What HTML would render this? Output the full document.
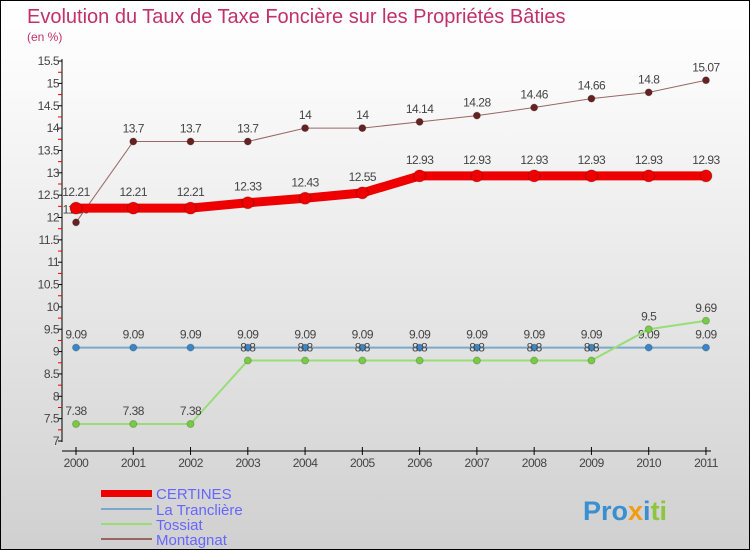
<!DOCTYPE html>
<html><head><meta charset="utf-8"><style>
body{margin:0}
#c{position:relative;width:748px;height:548px;border:1px solid #000;background:linear-gradient(#fff,#fafafa 15%,#d0d0d0);font-family:"Liberation Sans",sans-serif;overflow:hidden}
</style></head><body>
<div id="c">
<svg id="s" width="748" height="548" style="position:absolute;left:0;top:0" font-family="Liberation Sans, sans-serif">
<text x="26" y="22" font-size="20" fill="#c0306a">Evolution du Taux de Taxe Foncière sur les Propriétés Bâties</text>
<text x="26" y="40" font-size="12" fill="#c0306a">(en %)</text>
<g id="axes"></g><g id="series"></g>
<g>
<rect x="100" y="489" width="51" height="7" fill="#e00"/>
<text x="155" y="498" font-size="15" fill="#6666ff">CERTINES</text>
<line x1="100" y1="508" x2="151" y2="508" stroke="#7aa8cc" stroke-width="2"/>
<text x="155" y="514" font-size="15" fill="#6666ff">La Tranclière</text>
<line x1="100" y1="523" x2="151" y2="523" stroke="#99dd77" stroke-width="2"/>
<text x="155" y="529" font-size="15" fill="#6666ff">Tossiat</text>
<line x1="100" y1="538" x2="151" y2="538" stroke="#996666" stroke-width="2"/>
<text x="155" y="544" font-size="15" fill="#6666ff">Montagnat</text>
</g>
<text x="582" y="519" font-size="27" font-weight="bold"><tspan fill="#3a8fd0">Pro</tspan><tspan fill="#f39c12">x</tspan><tspan fill="#3a8fd0">i</tspan><tspan fill="#8cc63f">ti</tspan></text>
</svg>
</div>
<script>
const years=[2000,2001,2002,2003,2004,2005,2006,2007,2008,2009,2010,2011];
const certines=[12.21,12.21,12.21,12.33,12.43,12.55,12.93,12.93,12.93,12.93,12.93,12.93];
const tranclière=[9.09,9.09,9.09,9.09,9.09,9.09,9.09,9.09,9.09,9.09,9.09,9.09];
const tossiat=[7.38,7.38,7.38,8.8,8.8,8.8,8.8,8.8,8.8,8.8,9.5,9.69];
const montagnat=[11.89,13.7,13.7,13.7,14,14,14.14,14.28,14.46,14.66,14.8,15.07];
const yTicks=[7,7.5,8,8.5,9,9.5,10,10.5,11,11.5,12,12.5,13,13.5,14,14.5,15,15.5];
const NS="http://www.w3.org/2000/svg";
const X=i=>75+i*57.27, Y=v=>440-(v-7)*44.7;
function mk(t,a,p){const e=document.createElementNS(NS,t);for(const k in a)e.setAttribute(k,a[k]);p.appendChild(e);return e;}
const ax=document.getElementById('axes'), sg=document.getElementById('series');
let l=mk('line',{x1:61,y1:58,x2:61,y2:441,stroke:'#000'},ax);


l=mk('line',{x1:61,y1:450,x2:710,y2:450,stroke:'#000'},ax);


yTicks.forEach((v,k)=>{const y=Y(v);mk('line',{x1:57,y1:y,x2:61,y2:y,stroke:'#000'},ax);
if(k>0)mk('line',{x1:57,y1:y+11.2,x2:61,y2:y+11.2,stroke:'#e00'},ax);
const t=mk('text',{x:58,y:y+4,'font-size':12,'text-anchor':'end',fill:'#444','letter-spacing':'-0.5'},ax);t.textContent=v;

});
years.forEach((yr,i)=>{mk('line',{x1:X(i),y1:446,x2:X(i),y2:454,stroke:'#000'},ax);
const t=mk('text',{x:X(i),y:466,'font-size':12,'text-anchor':'middle',fill:'#444','letter-spacing':'-0.5'},ax);t.textContent=yr;

});
function series(d,name,col,w,r,dot){
 const g=mk('g',{},sg);
 
 
 mk('polyline',{points:d.map((v,i)=>X(i)+','+Y(v)).join(' '),fill:'none',stroke:col,'stroke-width':w},g);
 d.forEach((v,i)=>{const c=mk('circle',{cx:X(i),cy:Y(v),r:r,fill:dot,stroke:'#0003'},g);
 
 
 const t=mk('text',{x:X(i),y:Y(v)-9-(r>4?3:0),'font-size':12,'text-anchor':'middle',fill:'#444','letter-spacing':'-0.5'},g);t.textContent=v;
 
 });
}
series(tranclière,'la-tranclière','#7aa8cc',2,3.5,'#3a86c8');
series(tossiat,'tossiat','#99dd77',2,3.5,'#77cc44');
series(montagnat,'montagnat','#996666',1,3.5,'#662222');
series(certines,'certines','#e00',9,6,'#e00');
</script>
</body></html>
